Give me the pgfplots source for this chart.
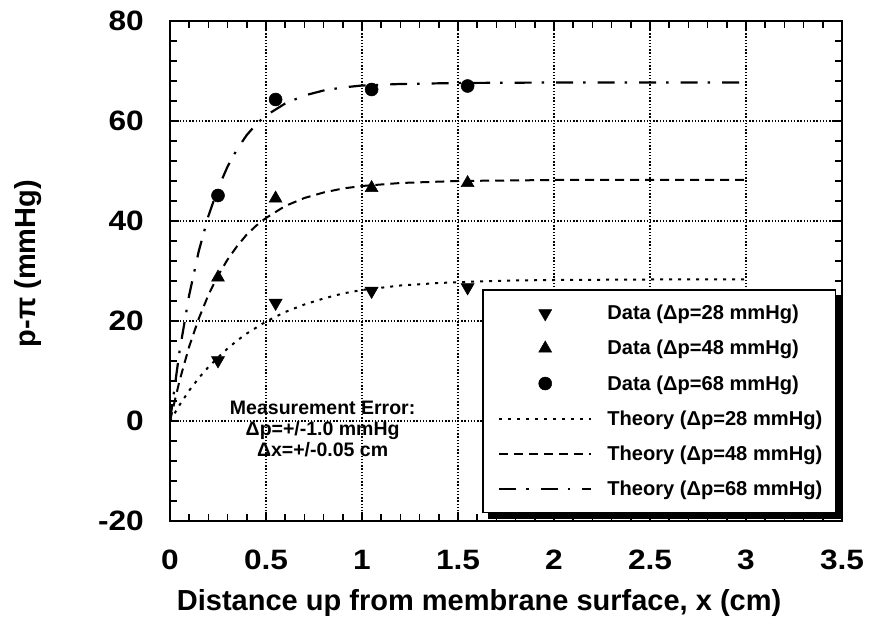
\documentclass[border=0pt]{standalone}
\usepackage{fontspec}
\setmainfont{Liberation Sans}
\newfontfamily\tickfont[FakeStretch=1.13]{Liberation Sans}
\usepackage{pgfplots}
\pgfplotsset{compat=1.18}

\pgfplotsset{
  markleg/.style={legend image code/.code={%
    \path (-5pt,0pt);
    \draw[mark repeat=2,mark phase=2,##1] plot coordinates {(0pt,0pt) (46pt,0pt) (92pt,0pt)};
    \path (104pt,0pt);}},
  lineleg/.style={legend image code/.code={%
    \path (-5pt,0pt);
    \draw[##1] (0pt,0pt) -- (92pt,0pt);
    \path (104pt,0pt);}},
  th28/.style={black, line width=2pt, dash pattern=on 3pt off 6pt},
  th48/.style={black, line width=2pt, dash pattern=on 9pt off 6pt},
  th68/.style={black, line width=2.2pt, dash pattern=on 17pt off 10pt on 2.5pt off 12pt},
}

\begin{document}
\begin{tikzpicture}
\path[use as bounding box] (-170pt,-113pt) rectangle (699pt,521pt);
\begin{axis}[
  scale only axis, width=672pt, height=500pt,
  xmin=0, xmax=3.5, ymin=-20, ymax=80,
  xtick={0,0.5,1,1.5,2,2.5,3,3.5},
  ytick={-20,0,20,40,60,80},
  minor x tick num=4, minor y tick num=4,
  tick align=inside,
  major tick length=9pt, minor tick length=7pt,
  tick style={black, line width=1.5pt},
  axis line style={line width=2.5pt},
  grid=major,
  grid style={black, line width=1.3pt, dash pattern=on 1.4pt off 1.8pt},
  /pgf/number format/assume math mode=true,
  ticklabel style={font=\fontsize{28}{30}\tickfont\bfseries, inner sep=0pt},
  xticklabel style={anchor=base, yshift=-48pt},
  yticklabel style={anchor=east, xshift=-26pt},
  xlabel={Distance up from membrane surface, x (cm)},
  ylabel={p-π (mmHg)},
  label style={font=\fontsize{29}{33}\selectfont\bfseries},
  xlabel style={at={(axis description cs:0.46,-0.164)}, anchor=center},
  ylabel style={at={(axis description cs:-0.211,0.515)}, anchor=center},
  legend cell align=left,
  legend style={name=leg, at={(1,0)}, anchor=south east, xshift=-6pt, yshift=8pt,
    draw=black, line width=1.5pt, fill=white,
    font=\fontsize{20.1}{24}\selectfont\bfseries,
    inner xsep=10pt, inner ysep=6pt, row sep=0pt,
    nodes={inner ysep=9.5pt, inner xsep=3pt}},
]

% measured pressure differences
\addplot[only marks, mark=triangle*, mark size=7.5pt, black,
  mark options={rotate=180, line width=0.5pt}, markleg]
  coordinates {(0.25,12.1) (0.55,23.6) (1.05,26.0) (1.55,26.7)};
\addlegendentry{Data (Δp=28 mmHg)}
\addplot[only marks, mark=triangle*, mark size=7.5pt, black,
  mark options={line width=0.5pt}, markleg]
  coordinates {(0.25,28.7) (0.55,44.5) (1.05,46.6) (1.55,47.6)};
\addlegendentry{Data (Δp=48 mmHg)}
\addplot[only marks, mark=*, mark size=6.5pt, black,
  mark options={line width=0.5pt}, markleg]
  coordinates {(0.25,45.1) (0.55,64.3) (1.05,66.3) (1.55,67.0)};
\addlegendentry{Data (Δp=68 mmHg)}

% model profiles
\addplot[th28, lineleg] coordinates {
  (0,0) (0.05,3.2) (0.1,6.1) (0.15,8.6) (0.2,10.8) (0.25,12.7) (0.3,14.5)
  (0.35,16.1) (0.4,17.5) (0.5,19.9) (0.6,21.8) (0.7,23.3) (0.8,24.5)
  (0.9,25.5) (1.0,26.2) (1.2,27.1) (1.4,27.6) (1.6,27.9) (1.8,28.1)
  (2.0,28.2) (2.5,28.3) (3.0,28.3)};
\addlegendentry{Theory (Δp=28 mmHg)}
\addplot[th48, lineleg] coordinates {
  (0,0) (0.05,8.1) (0.1,14.9) (0.15,20.5) (0.2,25.2) (0.25,29.1) (0.3,32.3)
  (0.35,35.0) (0.4,37.3) (0.45,39.1) (0.5,40.6) (0.6,43.0) (0.7,44.6)
  (0.8,45.7) (0.9,46.5) (1.0,47.0) (1.2,47.6) (1.5,48.0) (2.0,48.2)
  (2.5,48.2) (3.0,48.2)};
\addlegendentry{Theory (Δp=48 mmHg)}
\addplot[th68, lineleg] coordinates {
  (0,0) (0.05,14.0) (0.1,25.2) (0.15,34.0) (0.2,41.0) (0.25,46.5) (0.3,50.9)
  (0.35,54.4) (0.4,57.2) (0.45,59.4) (0.5,61.1) (0.6,63.5) (0.7,65.1)
  (0.8,66.1) (0.9,66.7) (1.0,67.1) (1.2,67.4) (1.5,67.6) (2.0,67.7)
  (2.5,67.7) (3.0,67.7)};
\addlegendentry{Theory (Δp=68 mmHg)}

\node[align=center, inner sep=0pt,
  font=\fontsize{19.5}{21}\selectfont\bfseries]
  at (axis cs:0.795,-1.6)
  {Measurement Error:\\Δp=+/-1.0 mmHg\\Δx=+/-0.05 cm};
\end{axis}
% heavy shadow along the right and lower edges of the legend box
\fill[black] ([yshift=-6pt]leg.north east) rectangle ([xshift=6pt,yshift=-6pt]leg.south east);
\fill[black] ([xshift=6pt]leg.south west) rectangle ([xshift=6pt,yshift=-6pt]leg.south east);
\end{tikzpicture}
\end{document}
